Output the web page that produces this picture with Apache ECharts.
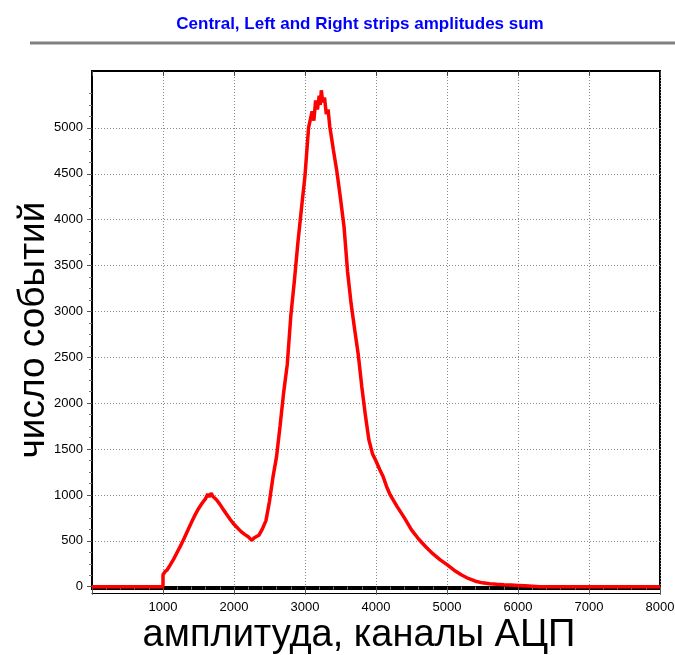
<!DOCTYPE html>
<html>
<head>
<meta charset="utf-8">
<script src="https://cdn.jsdelivr.net/npm/echarts@6/dist/echarts.min.js"></script>
<style>
  html, body { margin: 0; padding: 0; background: #fff; }
  #chart { width: 675px; height: 655px; }
</style>
</head>
<body>
<div id="chart"></div>
<script>
// channel numbers and event counts
const channels = [
  0, 1000, 1000, 1030, 1060, 1100, 1150, 1200, 1250, 1300, 1350, 1400, 1450, 1500,
  1550, 1600, 1630, 1650, 1680, 1700, 1750, 1800, 1850, 1900, 1950, 2000, 2050,
  2100, 2150, 2200, 2250, 2280, 2300, 2350, 2400, 2450, 2500, 2550, 2600, 2650,
  2700, 2750, 2800, 2850, 2900, 2950, 3000, 3050, 3100, 3125, 3150, 3175, 3200,
  3215, 3230, 3250, 3275, 3300, 3325, 3350, 3400, 3450, 3500, 3550, 3600, 3650,
  3700, 3750, 3800, 3850, 3900, 3950, 4000, 4050, 4100, 4150, 4200, 4300, 4400,
  4500, 4600, 4700, 4800, 4900, 5000, 5100, 5200, 5300, 5400, 5500, 5600, 5700,
  5800, 5900, 6000, 6100, 6200, 6300, 8000
];
const counts = [
  0, 0, 130, 165, 185, 235, 300, 375, 450, 530, 615, 700, 780, 850,
  910, 960, 1010, 980, 1020, 985, 950, 900, 840, 785, 730, 680, 640,
  600, 570, 545, 505, 530, 515, 560, 630, 720, 930, 1200, 1420, 1760,
  2120, 2420, 2950, 3330, 3750, 4120, 4480, 5000, 5180, 5080, 5300, 5200, 5350,
  5250, 5410, 5280, 5330, 5150, 5200, 5010, 4760, 4520, 4230, 3920, 3430, 3080,
  2800, 2530, 2180, 1870, 1600, 1450, 1370, 1280, 1200, 1090, 1000, 870, 750,
  620, 520, 435, 360, 295, 240, 180, 130, 90, 60, 42, 32, 26,
  21, 18, 14, 10, 5, 0, 0
];
const yTicks = [0, 500, 1000, 1500, 2000, 2500, 3000, 3500, 4000, 4500, 5000];

const chart = echarts.init(document.getElementById('chart'));
const font = 'Liberation Sans, Arial, sans-serif';
const gridLine = { show: true, lineStyle: { color: '#8a8a8a', width: 1, type: [1, 2] } };

chart.setOption({
  animation: false,
  backgroundColor: '#fff',
  title: {
    text: 'Central, Left and Right strips amplitudes sum',
    left: 355, top: 11, textAlign: 'center',
    textStyle: { color: '#0000ff', fontSize: 17, fontWeight: 'bold', fontFamily: font }
  },
  graphic: [{
    type: 'line', shape: { x1: 30, y1: 43, x2: 675, y2: 43 },
    style: { stroke: '#808080', lineWidth: 3 }
  }],
  grid: {
    left: 92, right: 15, top: 71, bottom: 66, outerBoundsMode: 'none',
    show: true, borderColor: '#000', borderWidth: 2
  },
  xAxis: [{
    type: 'value', min: 0, max: 8000, interval: 1000,
    name: 'амплитуда, каналы АЦП', nameLocation: 'middle', nameGap: 28, nameMoveOverlap: false,
    nameTextStyle: { fontSize: 38, color: '#000', fontFamily: font, padding: [0, 34, 0, 0] },
    axisLine: { show: true, lineStyle: { color: '#000', width: 2 } },
    axisTick: { show: true, length: 8, lineStyle: { color: '#555' } },
    minorTick: { show: true, splitNumber: 5, length: 3, lineStyle: { color: '#777' } },
    axisLabel: { color: '#000', fontSize: 13, fontFamily: font, margin: 12,
      formatter: v => (v === 0 ? '' : String(v)) },
    splitLine: gridLine
  }, {
    type: 'value', min: 0, max: 8000, position: 'bottom', offset: 4,
    axisLine: { show: true, lineStyle: { color: '#000', width: 1 } },
    axisTick: { show: false }, axisLabel: { show: false }, splitLine: { show: false }
  }, {
    type: 'value', min: 0, max: 8000, interval: 1000, position: 'top',
    axisLine: { show: false },
    axisTick: { show: true, inside: true, length: 5, lineStyle: { color: '#444' } },
    axisLabel: { show: false }, splitLine: { show: false }
  }],
  yAxis: {
    type: 'value', min: -25, max: 5620, splitNumber: 11,
    name: 'число событий', nameLocation: 'middle', nameGap: 40, nameMoveOverlap: false,
    nameTextStyle: { fontSize: 37, color: '#000', fontFamily: font },
    axisLine: { show: true, lineStyle: { color: '#000', width: 2 } },
    axisTick: { show: true, length: 5, customValues: yTicks, lineStyle: { color: '#555' } },
    minorTick: { show: true, splitNumber: 4, length: 3, lineStyle: { color: '#777' } },
    axisLabel: { color: '#000', fontSize: 13, fontFamily: font, margin: 9,
      customValues: yTicks, formatter: v => String(v) },
    splitLine: gridLine
  },
  series: [{
    type: 'line',
    xAxisIndex: 0,
    data: channels.map((c, i) => [c, counts[i]]),
    showSymbol: false,
    lineStyle: { color: '#ff0000', width: 3.5 },
    itemStyle: { color: '#ff0000' },
    z: 5
  }]
});
</script>
</body>
</html>
